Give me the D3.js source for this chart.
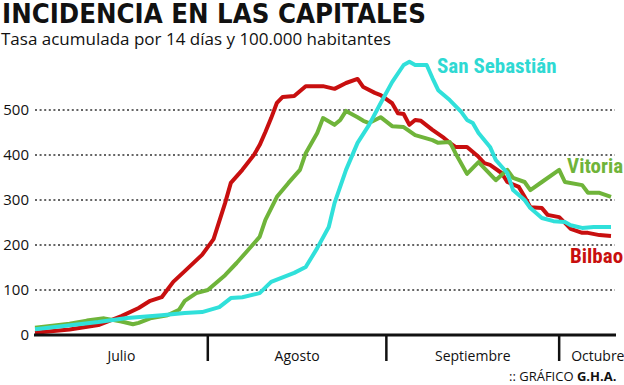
<!DOCTYPE html>
<html>
<head>
<meta charset="utf-8">
<script src="https://cdn.jsdelivr.net/npm/d3@7"></script>
<style>
body { margin: 0; background: #fff; }
svg { display: block; font-family: "Open Sans", sans-serif; }
</style>
</head>
<body>
<div id="grafico"></div>
<script>
// datos (2020)
var meses = [["Julio", "07-01"], ["Agosto", "08-01"], ["Septiembre", "09-01"], ["Octubre", "10-01"]];
var ticksY = [0, 100, 200, 300, 400, 500];

var bilbao = [["07-02",5],["07-08",12],["07-13",22],["07-17",42],["07-20",60],["07-22",76],["07-24",84],["07-26",118],["07-28",142],["07-31",178],["08-02",213],["08-04",293],["08-05",338],["08-07",367],["08-09",400],["08-10",422],["08-11",451],["08-12",482],["08-13",516],["08-14",529],["08-16",531],["08-18",553],["08-21",553],["08-23",547],["08-25",560],["08-27",569],["08-28",551],["08-30",538],["08-31",533],["09-02",515],["09-03",493],["09-04",491],["09-05",467],["09-06",478],["09-07",476],["09-09",456],["09-11",438],["09-12",427],["09-13",418],["09-15",418],["09-17",396],["09-18",382],["09-19",378],["09-21",360],["09-22",340],["09-24",329],["09-25",307],["09-26",284],["09-28",282],["09-29",267],["10-01",262],["10-02",249],["10-03",236],["10-05",227],["10-06",227],["10-08",222],["10-10",220]];

var vitoria = [["07-02",16],["07-08",25],["07-11",32],["07-14",37],["07-17",30],["07-19",24],["07-20",27],["07-22",37],["07-25",44],["07-27",56],["07-28",76],["07-30",93],["08-01",100],["08-04",133],["08-06",160],["08-08",189],["08-10",218],["08-11",256],["08-13",307],["08-15",338],["08-17",367],["08-18",404],["08-20",449],["08-21",482],["08-23",467],["08-24",478],["08-25",498],["08-27",484],["08-28",476],["08-29",471],["08-31",484],["09-02",464],["09-04",462],["09-06",444],["09-09",433],["09-10",427],["09-12",429],["09-13",404],["09-15",358],["09-17",384],["09-18",371],["09-20",344],["09-22",367],["09-23",349],["09-25",340],["09-26",322],["09-28",340],["10-01",367],["10-02",340],["10-05",333],["10-06",316],["10-08",316],["10-10",307]];

var sanSebastian = [["07-02",13],["07-07",20],["07-13",29],["07-18",38],["07-24",44],["07-28",49],["07-31",51],["08-03",62],["08-05",82],["08-07",84],["08-10",93],["08-12",118],["08-15",133],["08-16",138],["08-18",151],["08-20",193],["08-22",240],["08-23",293],["08-25",367],["08-27",427],["08-29",467],["08-31",515],["09-02",562],["09-04",600],["09-05",607],["09-06",600],["09-08",600],["09-09",571],["09-10",544],["09-12",522],["09-14",496],["09-15",478],["09-16",471],["09-17",449],["09-19",418],["09-20",389],["09-22",360],["09-23",322],["09-25",300],["09-26",282],["09-28",260],["09-30",253],["10-02",251],["10-03",244],["10-05",238],["10-07",240],["10-10",240]];

var width = 624, height = 385;
var parse = d3.timeParse("%Y-%m-%d");
function fecha(s) { return parse("2020-" + s); }

var x = d3.scaleTime().domain([fecha("07-02"), fecha("10-10")]).range([35, 611]);
var y = d3.scaleLinear().domain([0, 500]).range([335, 110]);

var svg = d3.select("#grafico").append("svg")
    .attr("width", width)
    .attr("height", height);

// titulo
svg.append("text")
    .attr("x", 2).attr("y", 23)
    .attr("textLength", 424).attr("lengthAdjust", "spacingAndGlyphs")
    .style("font-family", "'DejaVu Sans', sans-serif")
    .style("font-weight", "bold").style("font-size", "27px")
    .style("fill", "#111")
    .text("INCIDENCIA EN LAS CAPITALES");

svg.append("text")
    .attr("x", 1).attr("y", 45)
    .style("font-size", "17px").style("fill", "#111")
    .text("Tasa acumulada por 14 días y 100.000 habitantes");

// rejilla punteada
svg.append("g").selectAll("line")
    .data(ticksY.filter(function(d) { return d > 0; }))
    .join("line")
        .attr("x1", 35).attr("x2", 615)
        .attr("y1", function(d) { return y(d); })
        .attr("y2", function(d) { return y(d); })
        .style("stroke", "#333")
        .style("stroke-width", 1.5)
        .style("stroke-dasharray", "2,2.6");

var yAxis = d3.axisLeft(y).tickValues(ticksY).tickSize(0).tickPadding(0);
var gy = svg.append("g")
    .attr("transform", "translate(29,0)")
    .call(yAxis);
gy.select(".domain").remove();
gy.selectAll("text")
    .style("font-family", "'Open Sans', sans-serif")
    .style("font-size", "15px")
    .style("fill", "#111");

// lineas
var linea = d3.line()
    .x(function(d) { return x(fecha(d[0])); })
    .y(function(d) { return y(d[1]); });

var series = [
    {datos: bilbao, color: "#c80f0f"},
    {datos: vitoria, color: "#6fb43a"},
    {datos: sanSebastian, color: "#30e0da"}
];

svg.append("g").selectAll("path")
    .data(series)
    .join("path")
        .attr("d", function(d) { return linea(d.datos); })
        .style("fill", "none")
        .style("stroke", function(d) { return d.color; })
        .style("stroke-width", 4)
        .style("stroke-linejoin", "round");

// eje x
svg.append("line")
    .attr("x1", 34).attr("x2", 616)
    .attr("y1", y(0)).attr("y2", y(0))
    .style("stroke", "#111").style("stroke-width", 3);

svg.append("g").selectAll("line")
    .data(meses.slice(1))
    .join("line")
        .attr("x1", function(d) { return x(fecha(d[1])); })
        .attr("x2", function(d) { return x(fecha(d[1])); })
        .attr("y1", y(0)).attr("y2", y(0) + 26)
        .style("stroke", "#111").style("stroke-width", 2.5);

svg.append("g").selectAll("text")
    .data(meses)
    .join("text")
        .attr("x", function(d, i) {
            if (i == meses.length - 1) return x(fecha(d[1])) + 12;
            return (Math.max(x(fecha(d[1])), 35) + x(fecha(meses[i + 1][1]))) / 2;
        })
        .attr("y", 361)
        .attr("text-anchor", function(d, i) { return i == meses.length - 1 ? "start" : "middle"; })
        .style("font-size", "14px").style("fill", "#111")
        .text(function(d) { return d[0]; });

// etiquetas
var etiquetas = [
    {t: "San Sebastián", x: 437, y: 73, c: "#2ed9d3"},
    {t: "Vitoria", x: 567, y: 173, c: "#6fb43a"},
    {t: "Bilbao", x: 570, y: 263, c: "#c80f0f"}
];
svg.append("g").selectAll("text")
    .data(etiquetas)
    .join("text")
        .attr("x", function(d) { return d.x; })
        .attr("y", function(d) { return d.y; })
        .style("font-family", "'Liberation Sans Narrow', 'Roboto Condensed', Roboto, sans-serif")
        .style("font-weight", "bold").style("font-size", "21px")
        .style("fill", function(d) { return d.c; })
        .text(function(d) { return d.t; });

var credito = svg.append("text")
    .attr("x", 509).attr("y", 381)
    .style("font-size", "13px").style("fill", "#111");
credito.append("tspan").text(":: GRÁFICO ");
credito.append("tspan").style("font-weight", "bold").text("G.H.A.");
</script>
</body>
</html>
